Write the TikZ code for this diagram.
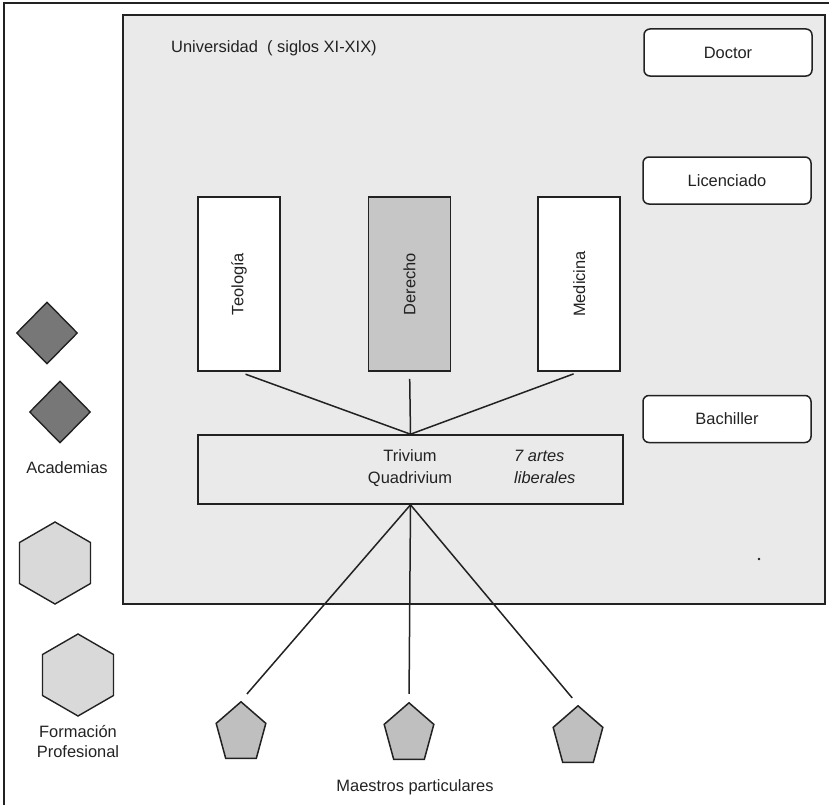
\documentclass[tikz,border=0pt]{standalone}
\usepackage{graphicx}
\usepackage{fontspec}
\setmainfont{Liberation Sans}
\usetikzlibrary{positioning,shapes.geometric}

\definecolor{ink}{HTML}{222222}
\definecolor{panel}{HTML}{EAEAEA}
\definecolor{darkfill}{HTML}{C6C6C6}
\definecolor{pentfill}{HTML}{BFBFBF}
\definecolor{hexfill}{HTML}{D9D9D9}
\definecolor{diafill}{HTML}{777777}

\begin{document}
\begin{tikzpicture}[
  x=1bp, y=-1bp,
  every node/.style={font=\fontsize{16.5}{21}\selectfont, text=ink},
  grado/.style={draw=ink, rounded corners=6bp, fill=white, line width=1.5bp, minimum width=168bp, minimum height=47bp},
  facultad/.style={draw=ink, fill=white, line width=1.6bp, minimum width=82bp, minimum height=174bp, inner sep=0pt},
  maestro/.style={regular polygon, regular polygon sides=5, draw=ink, fill=pentfill, line width=1.5bp, minimum size=60bp, xscale=0.87, yscale=1.04, inner sep=0pt},
  academia/.style={diamond, draw=ink, fill=diafill, line width=1.4bp, minimum width=61bp, minimum height=62bp, inner sep=0pt},
  formacion/.style={regular polygon, regular polygon sides=6, shape border rotate=30, draw=ink, fill=hexfill, line width=1.4bp, minimum size=82bp, inner sep=0pt},
  nota/.style={font=\fontsize{16.5}{22}\selectfont\itshape, align=left},
  enlace/.style={draw=ink, line width=1.5bp}
]
\useasboundingbox (0,0) rectangle (829,805);

% frame and university panel
\draw[ink, line width=1.4bp] (4,805) -- (4,3) -- (829,3);
\node[draw=ink, fill=panel, line width=1.8bp, minimum width=702bp, minimum height=589bp, inner sep=0pt] (uni) at (474,309.5) {};
\node[anchor=base west, inner sep=0pt] (titulo) at (171,53) {Universidad\ \ ( siglos XI-XIX)};

% degrees
\node[grado] (doctor) at (728,52.5) {Doctor};
\node[grado] (lic) at (727,180.5) {Licenciado};
\node[grado] (bach) at (727,419) {Bachiller};

% faculties
\node[facultad] (teo) at (239,284) {\rotatebox{90}{Teología}};
\node[facultad, fill=darkfill, right=87bp of teo] (der) {\rotatebox{90}{Derecho}};
\node[facultad, right=86bp of der] (med) {\rotatebox{90}{Medicina}};

% liberal arts
\node[draw=ink, line width=1.6bp, minimum width=425bp, minimum height=69bp, inner sep=0pt] (triv) at (410.5,469.5) {};
\node[align=center, font=\fontsize{16.5}{22}\selectfont] (trq) at (410,468) {Trivium\\Quadrivium};
\node[nota, anchor=west, inner sep=0pt] (artes) at (514,467) {7 artes\\liberales};
\fill[ink] (759,559) circle (1.3bp);

\draw[enlace, shorten <=7bp] (teo.south) -- (triv.north);
\draw[enlace, shorten <=7bp] (der.south) -- (triv.north);
\draw[enlace, shorten <=6bp] (med.south) -- (triv.north);

% private masters
\node[maestro] (m1) at (241,733) {};
\node[maestro] (m2) at (409,734) {};
\node[maestro] (m3) at (578,737) {};
\node (maestros) at (415,787) {Maestros particulares};

\draw[enlace, shorten >=9bp] (triv.south) -- (m1.north);
\draw[enlace, shorten >=8bp] (triv.south) -- (m2.north);
\draw[enlace, shorten >=9bp] (triv.south) -- (m3.north);

% academies and professional training
\node[academia] (a1) at (47,333) {};
\node[academia] (a2) at (60,412) {};
\node (academias) at (67,468) {Academias};
\node[formacion] (f1) at (55,563) {};
\node[formacion] (f2) at (78,675) {};
\node[align=center] (formacion) at (78,741.5) {Formación\\Profesional};
\end{tikzpicture}
\end{document}
